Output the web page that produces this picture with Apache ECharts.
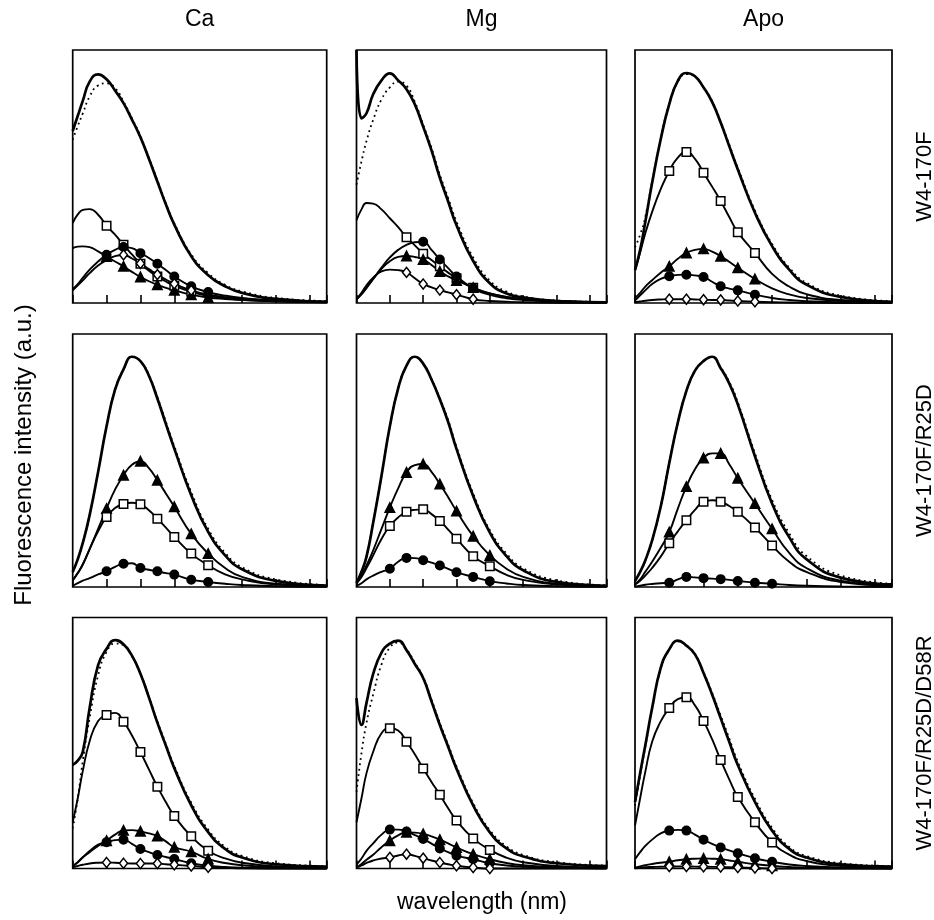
<!DOCTYPE html>
<html><head><meta charset="utf-8">
<script src="https://cdn.jsdelivr.net/npm/echarts@6/dist/echarts.min.js"></script>
<style>html,body{margin:0;padding:0;background:#fff}#c{width:934px;height:920px}</style>
</head><body><div id="c"></div>
<script>
// wavelength samples (nm)
const wavelength = [300,303,306,310,315,320,325,330,335,340,345,350,355,360,370,380,390,400,420,450];
const xTicks = [300,320,340,360,380,400,420,440];
const columnTitles = ['Ca','Mg','Apo'];
const rowTitles = ['W4-170F','W4-170F/R25D','W4-170F/R25D/D58R'];
const xTitle = 'wavelength (nm)';
const yTitle = 'Fluorescence intensity (a.u.)';

// marker wavelengths
const mk320_370 = [320,330,340,350,360,370];
const mk320_380 = [320,330,340,350,360,370,380];
const mk330_370 = [330,340,350,360,370];
const mk340_370 = [340,350,360,370];

// ---- Row 1: W4-170F ----
const ca1_total = [68,74,80,87.5,90.4,88.4,84,79,72.5,65.5,57,48,39,31,18.5,11,6.6,4,1.6,0.5];
const ca1_sum   = [64.5,70,75,81.6,86,86.8,85,79.6,73,66,57.5,48.5,39.5,31.5,19.2,11.8,7.2,4.6,2,0.8];
const ca1_sq    = [31.6,35,36.8,37.1,34.9,30.5,27,23,19.2,15.5,12.8,10.5,8.5,6.8,4.4,2.8,1.9,1.3,0.7,0.3];
const ca1_tri   = [21.7,22.3,22.4,22.1,20.4,18.4,16.4,14.5,12.3,10.3,8.6,7.2,6,5,3.3,2.2,1.6,1.2,0.7,0.3];
const ca1_circ  = [5.5,7.5,10,13.2,16.4,19.1,21,22.1,21.7,19.7,17.8,15.5,13,10.5,6.6,4.3,2.9,2,1,0.5];
const ca1_dia   = [5,7,9,11.8,14.8,17,18.5,19,17.6,15.6,13.4,11.2,9.3,7.6,5,3.3,2.3,1.6,0.9,0.4];

const mg1_total = [100,73,75,82.5,88,90.8,88,84.5,78.5,69.7,60.3,49.5,40.1,30.7,16.6,7.8,3.8,2.2,0.8,0.3];
const mg1_sum   = [46.8,56,64,72.4,80.5,85.2,87.5,85.9,79.5,70.5,61.3,50.7,41.5,32.2,18,8.8,4.5,2.6,1,0.4];
const mg1_sq    = [32.7,37,39.5,39.3,37,33.5,30,26,22.8,19.5,17,14.5,12,9.8,6,3.8,2.4,1.6,0.8,0.3];
const mg1_circ  = [1.5,3.5,6,9.5,14,18,21,23,24,24.2,21,17.2,13.8,10.5,5.8,3.2,1.9,1.2,0.6,0.2];
const mg1_tri   = [1.5,3.5,6,9.5,13.5,16.5,18.2,18.6,18.2,17.2,15,12.5,10.5,8.9,6.1,3.8,2.4,1.5,0.7,0.3];
const mg1_dia   = [1.5,4,7,10,12.5,13.2,13,12.1,9.8,7.5,6.2,5.1,4.2,3.3,1.5,0.8,0.5,0.3,0.1,0];

const apo1_total = [13,21,32,47.5,64.7,78.6,87.8,90.9,89.6,85.2,79.5,71.3,62,52.8,35.7,22.5,13.2,7.3,2.4,0.5];
const apo1_sum   = [22,27,34,48,65,78.8,87.5,90.5,89.5,85.3,79.8,71.8,62.6,53.5,36.5,23.3,14,8,2.9,0.8];
const apo1_sq    = [13,20,27.5,36,45,52.2,57.5,59.7,57,51.5,46,40.3,34,28,19.8,11.5,6.5,3.5,1.2,0.4];
const apo1_tri   = [2,4,6.5,9,12,14.5,17.5,19.8,21,21.4,20.3,18.5,16.3,13.9,9.5,5.8,3.4,2,0.8,0.3];
const apo1_circ  = [1,3,5,7.5,9.5,10.6,11.1,11.2,10.9,10.3,8.4,6.6,5.7,5,3.3,2,1.2,0.7,0.3,0.1];
const apo1_dia   = [0.3,0.6,0.9,1.2,1.4,1.5,1.5,1.5,1.4,1.3,1.2,1.2,1,0.8,0.5,0.3,0.2,0.1,0,0];

// ---- Row 2: W4-170F/R25D ----
const ca2_total = [5.9,11,17.5,28.4,45.5,63.5,78,86,91,89.3,83.5,74.5,64.5,54.7,36.3,21.8,12.5,7,2.4,0.6];
const ca2_sum   = [5.9,11,17.5,28.4,45.5,63.5,78,86,91,89.3,83.8,75.1,65.3,55.6,37.5,23,13.5,7.8,3,0.8];
const ca2_tri   = [2.6,5.5,9,15,23,31,38.5,44.2,48.3,49.7,47,42.2,37,31.7,21,13.2,7.5,4,1.3,0.4];
const ca2_sq    = [2.6,5.5,9,15,22,27.7,31.2,32.8,33.3,32.7,30.3,27,23.5,19.8,13.2,8.6,5,3,1,0.3];
const ca2_circ  = [0.5,1.5,2.5,3.5,5,6.2,8,9.2,9.4,7.5,6.8,6.2,5.5,4.9,2.9,2,1.3,0.8,0.3,0.1];

const mg2_total = [1.6,6,12,25.4,44,63.5,78.5,87.5,91,88.3,82,74.2,65.2,54.6,36,21.5,12.2,6.6,2,0.5];
const mg2_sum   = [1.6,6,12,25.4,44,63.5,78.5,87.5,91,88.3,82.2,74.7,66,55.4,37,22.5,13.2,7.4,2.6,0.7];
const mg2_tri   = [1.5,4.5,8.5,14.5,23,31.4,39,45.3,48.2,48.6,45.5,40.7,35.5,30,20.1,12.5,7.2,4,1.3,0.4];
const mg2_sq    = [1.5,4,7.5,12.5,19,24.1,27.5,29.7,30.5,30.7,28.8,26.1,22.7,19.1,12.2,8.2,4.8,2.8,1,0.3];
const mg2_circ  = [0.5,1.5,3,4.5,6,7.2,10,11.5,11.4,10.6,9.6,8.5,7.2,5.8,4,2.3,1.4,0.8,0.3,0.1];

const apo2_total = [2.4,6,10.5,18.4,31.7,49,65,77.5,85.5,89.3,91,86.5,80.5,72.2,51.7,33,19.7,11,3.7,1];
const apo2_sum   = [2.4,6,10.5,18.4,31.7,49,65,77.5,85.5,89.3,91,86.8,81.1,73,52.9,34.4,21.2,12.3,4.6,1.3];
const apo2_tri   = [1,3,6,10,15.5,21.7,31,39.7,46.5,51,52.8,52.8,48.5,43,33,23,13.5,7.5,2.5,0.6];
const apo2_sq    = [1,2.5,4.5,7.5,12,17.3,22,26.4,30.5,33.7,34.3,33.7,32,29.7,23.5,16.4,10,6,2,0.6];
const apo2_circ  = [0.2,0.5,0.9,1.2,1.5,1.7,3,4,3.8,3.5,3.3,3.1,2.8,2.4,1.7,1.3,0.8,0.5,0.2,0];

// ---- Row 3: W4-170F/R25D/D58R ----
const ca3_total = [41.3,43,46.6,64,81,87.5,91,89.3,84.8,77.6,68.2,58.1,49,40,25.2,14.5,7.8,4.4,1.7,0.8];
const ca3_sum   = [16,28,43,60,77,86.3,89.6,89,84.5,77.6,68.5,58.6,49.7,40.8,26.2,15.5,8.6,5,2.1,1];
const ca3_sq    = [18.5,28,39,50.7,58.8,61.2,62,58.5,53,46.4,39.5,32.6,26.5,20.9,12.8,7.1,4,2.3,0.9,0.3];
const ca3_tri   = [1,2.5,4.5,6.5,9,11.1,13.5,15.2,15.3,14.8,14,12.9,10.8,8.5,6.7,3.8,2.2,1.3,0.5,0.1];
const ca3_circ  = [1,2.5,4.5,7,9.5,10.5,11.3,11.5,9.8,7.8,6.5,5.4,4.6,3.8,2.1,1.1,0.6,0.3,0.1,0];
const ca3_dia   = [0.5,1,1.5,2,2.3,2.4,2.3,2.1,2,2,2,2,1.7,1.5,1,0.5,0.3,0.1,0,0];

const mg3_total = [67.9,57.2,66,77.5,86,89.6,90.8,87,81.5,75.9,66.6,57.2,48.5,39.8,25.1,14.4,8,4.8,2.1,1];
const mg3_sum   = [30.5,46,58,69.3,81.3,88,90,87.3,82,76.3,67.2,58,49.3,40.7,26,15.3,8.8,5.4,2.5,1.2];
const mg3_sq    = [18.4,28,38,46.5,53.9,55.9,55,50.5,45.5,39.8,34.5,29.4,24,19.1,12,7.4,4.3,2.5,1,0.4];
const mg3_circ  = [1.5,4,7,10,13.5,15.5,15.5,14.7,13.3,11.8,9.9,8,6.5,5.1,3.7,2.1,1.2,0.7,0.3,0.1];
const mg3_tri   = [0.5,1.8,3.5,5.5,8.5,11.1,13.2,14.4,14.3,13.8,12.8,11.5,10,8.4,5.7,3.7,2.2,1.3,0.5,0.1];
const mg3_dia   = [0.3,1.2,2.2,3.2,4,4.4,5.2,5.7,5,4.1,3.2,2.4,1.7,1.1,0.4,0,0,0,0,0];

const apo3_total = [26.5,38,49,63.9,79.9,87.3,90.8,88.8,85.3,77.9,69.3,59.9,50.5,41.2,26.5,15.1,7.8,4.4,1.7,0.8];
const apo3_sum   = [25,37,48.5,63.5,79.5,87.2,90.5,88.8,85.5,78.3,70,61,51.8,42.5,27.8,16.2,8.6,5,2.1,1];
const apo3_sq    = [17.1,28,38.5,50.5,58.6,63.9,67.5,68.2,65,58.8,51.5,43.2,35.5,28.5,18.4,10.4,5.5,3,1.1,0.4];
const apo3_circ  = [3.7,6.5,9,11.5,14,15.1,15.4,15.1,13.5,11.5,9.8,8.4,7.2,6.1,4.1,2.7,1.6,1,0.4,0.1];
const apo3_tri   = [0.3,0.8,1.3,1.8,2.3,2.7,3.3,3.7,3.9,4,3.9,3.7,3.2,2.7,1.7,1.1,0.6,0.3,0.1,0];
const apo3_dia   = [0.1,0.3,0.5,0.6,0.7,0.8,0.8,0.8,0.75,0.7,0.65,0.6,0.5,0.4,0.2,0,0,0,0,0];

// ---- layout ----
const colLeft = [72.7, 356.5, 635];
const colWidth = [254, 250, 257];
const rowTop = [50, 334, 617.5];
const rowHeight = [253, 253, 251];

const panels = [
  {r:0,c:0,curves:[['sq',ca1_sq,mk320_370],['tri',ca1_tri,mk320_380],['circ',ca1_circ,mk320_380],['dia',ca1_dia,mk330_370],['sum',ca1_sum],['total',ca1_total]]},
  {r:0,c:1,curves:[['sq',mg1_sq,mk330_370],['circ',mg1_circ,mk340_370],['tri',mg1_tri,mk330_370],['dia',mg1_dia,mk330_370],['sum',mg1_sum],['total',mg1_total]]},
  {r:0,c:2,curves:[['sq',apo1_sq,mk320_370],['tri',apo1_tri,mk320_370],['circ',apo1_circ,mk320_370],['dia',apo1_dia,mk320_370],['sum',apo1_sum],['total',apo1_total]]},
  {r:1,c:0,curves:[['tri',ca2_tri,mk320_380],['sq',ca2_sq,mk320_380],['circ',ca2_circ,mk320_380],['sum',ca2_sum],['total',ca2_total]]},
  {r:1,c:1,curves:[['tri',mg2_tri,mk320_380],['sq',mg2_sq,mk320_380],['circ',mg2_circ,mk320_380],['sum',mg2_sum],['total',mg2_total]]},
  {r:1,c:2,curves:[['tri',apo2_tri,mk320_380],['sq',apo2_sq,mk320_380],['circ',apo2_circ,mk320_380],['sum',apo2_sum],['total',apo2_total]]},
  {r:2,c:0,curves:[['sq',ca3_sq,mk320_380],['tri',ca3_tri,mk320_380],['circ',ca3_circ,mk320_380],['dia',ca3_dia,mk320_380],['sum',ca3_sum],['total',ca3_total]]},
  {r:2,c:1,curves:[['sq',mg3_sq,mk320_380],['circ',mg3_circ,mk320_380],['tri',mg3_tri,mk320_380],['dia',mg3_dia,mk320_380],['sum',mg3_sum],['total',mg3_total]]},
  {r:2,c:2,curves:[['sq',apo3_sq,mk320_380],['circ',apo3_circ,mk320_380],['tri',apo3_tri,mk320_380],['dia',apo3_dia,mk320_380],['sum',apo3_sum],['total',apo3_total]]}
];

const symStyle = {
  sq:   {symbol:'rect', size:8.5, fill:'#fff'},
  tri:  {symbol:'triangle', size:9.5, fill:'#000'},
  circ: {symbol:'circle', size:8.5, fill:'#000'},
  dia:  {symbol:'diamond', size:[8,10], fill:'#fff'}
};

const grids = [], xAxes = [], yAxes = [], series = [];
panels.forEach((p, gi) => {
  grids.push({left: colLeft[p.c], top: rowTop[p.r], width: colWidth[p.c], height: rowHeight[p.r],
    show: true, borderColor: '#000', borderWidth: 1.7, backgroundColor: 'transparent', containLabel: false});
  xAxes.push({type:'value', gridIndex: gi, min: 300, max: 450, interval: 20,
    axisLine:{show:false}, axisLabel:{show:false}, splitLine:{show:false},
    axisTick:{show:true, inside:true, length:8, lineStyle:{color:'#000', width:1.6}}});
  yAxes.push({type:'value', gridIndex: gi, min: 0, max: 100,
    axisLine:{show:false}, axisLabel:{show:false}, splitLine:{show:false}, axisTick:{show:false}});
  p.curves.forEach(([kind, ys, marks]) => {
    const s = {type:'line', xAxisIndex: gi, yAxisIndex: gi, smooth: 0.5, clip: false, silent: true,
      animation: false, z: 2};
    if (kind === 'total') {
      s.lineStyle = {color:'#000', width:2.7};
      s.showSymbol = false; s.symbol = 'none'; s.z = 4;
      s.data = wavelength.map((w,i)=>[w, ys[i]]);
    } else if (kind === 'sum') {
      s.lineStyle = {color:'#000', width:1.8, type:[1.8,3.6]};
      s.showSymbol = false; s.symbol = 'none'; s.z = 3;
      s.data = wavelength.map((w,i)=>[w, ys[i]]);
    } else {
      const st = symStyle[kind];
      s.lineStyle = {color:'#000', width:1.9};
      s.showSymbol = true;
      s.symbol = 'none';
      s.symbolSize = st.size;
      s.itemStyle = {color: st.fill, borderColor:'#000', borderWidth:1.5};
      s.data = wavelength.map((w,i)=>{
        const item = {value:[w, ys[i]]};
        item.symbol = (marks && marks.includes(w)) ? st.symbol : 'none';
        return item;
      });
      s.z = 5;
    }
    series.push(s);
  });
});

const font = '"Liberation Sans", Arial, Helvetica, sans-serif';
const graphics = [];
columnTitles.forEach((t, c) => {
  graphics.push({type:'text', x: colLeft[c] + colWidth[c]/2, y: 20,
    style:{text:t, fill:'#000', font:'23px ' + font, align:'center', verticalAlign:'middle'}});
});
rowTitles.forEach((t, r) => {
  graphics.push({type:'text', x: 925, y: rowTop[r] + rowHeight[r]/2, rotation: Math.PI/2,
    style:{text:t, fill:'#000', font:'22px ' + font, align:'center', verticalAlign:'middle'}});
});
graphics.push({type:'text', x: 24, y: 455, rotation: Math.PI/2,
  style:{text:yTitle, fill:'#000', font:'24px ' + font, align:'center', verticalAlign:'middle'}});
graphics.push({type:'text', x: 482, y: 903,
  style:{text:xTitle, fill:'#000', font:'23px ' + font, align:'center', verticalAlign:'middle'}});

const chart = echarts.init(document.getElementById('c'), null, {renderer:'canvas'});
chart.setOption({
  animation: false,
  backgroundColor: '#fff',
  grid: grids, xAxis: xAxes, yAxis: yAxes, series: series,
  graphic: graphics
});
</script></body></html>
